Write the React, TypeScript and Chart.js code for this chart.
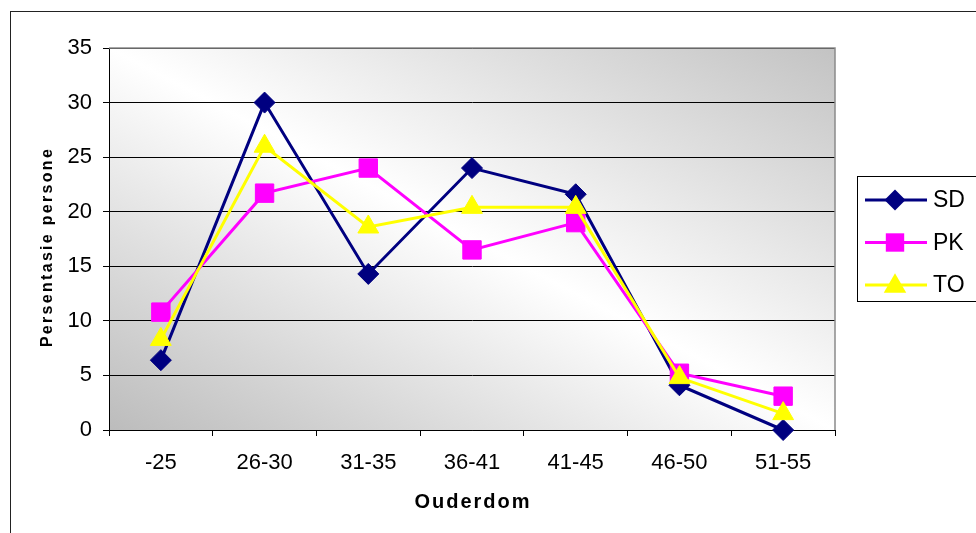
import React, { useEffect, useRef } from 'react';
import { Chart, registerables } from 'chart.js';

Chart.register(...registerables);

const categories = ['-25', '26-30', '31-35', '36-41', '41-45', '46-50', '51-55'];
const seriesNames = ['SD', 'PK', 'TO'];
const sdValues = [6.4, 30, 14.3, 24, 21.6, 4.1, 0];
const pkValues = [10.8, 21.7, 24, 16.5, 19, 5.2, 3.1];
const toValues = [8.3, 26, 18.6, 20.4, 20.4, 4.8, 1.5];
const yMin = 0;
const yMax = 35;
const yStep = 5;
const xTitle = 'Ouderdom';
const yTitle = 'Persentasie persone';

const FONT = '"Liberation Sans", Arial, Helvetica, sans-serif';

function drawMarker(ctx: CanvasRenderingContext2D, style: string, x: number, y: number, r: number, color: string) {
  ctx.save();
  ctx.fillStyle = color;
  ctx.beginPath();
  if (style === 'rectRot') {
    ctx.moveTo(x, y - r);
    ctx.lineTo(x + r, y);
    ctx.lineTo(x, y + r);
    ctx.lineTo(x - r, y);
    ctx.closePath();
  } else if (style === 'rect') {
    const s = r * Math.SQRT1_2;
    ctx.rect(x - s, y - s, 2 * s, 2 * s);
  } else {
    const h = r * 0.866;
    ctx.moveTo(x, y - r * 0.9);
    ctx.lineTo(x + h, y + r * 0.6);
    ctx.lineTo(x - h, y + r * 0.6);
    ctx.closePath();
  }
  ctx.fill();
  ctx.restore();
}

export default function App() {
  const ref = useRef<HTMLCanvasElement>(null);

  useEffect(() => {
    const canvas = ref.current;
    if (!canvas) return;

    const decor = {
      id: 'decor',
      beforeDraw(chart: any) {
        const { ctx, chartArea: a } = chart;
        const w = a.right - a.left;
        const h = a.bottom - a.top;
        const cx = (a.left + a.right) / 2;
        const cy = (a.top + a.bottom) / 2;
        const t = (w * h) / (w * w + h * h);
        const g = ctx.createLinearGradient(cx - t * h, cy + t * w, cx + t * h, cy - t * w);
        g.addColorStop(0, '#bcbcbc');
        g.addColorStop(0.5, '#ffffff');
        g.addColorStop(1, '#c3c3c3');
        ctx.save();
        ctx.fillStyle = '#ffffff';
        ctx.fillRect(0, 0, chart.width, chart.height);
        ctx.fillStyle = g;
        ctx.fillRect(a.left, a.top, w, h);
        ctx.strokeStyle = '#222';
        ctx.lineWidth = 1;
        ctx.strokeRect(10.5, 11.5, 3000, 3000);
        ctx.restore();
      },
      beforeDatasetsDraw(chart: any) {
        const { ctx, chartArea: a } = chart;
        ctx.save();
        ctx.strokeStyle = '#8a8a8a';
        ctx.lineWidth = 1.5;
        ctx.beginPath();
        ctx.moveTo(a.left, a.top);
        ctx.lineTo(a.right, a.top);
        ctx.lineTo(a.right, a.bottom);
        ctx.stroke();
        ctx.restore();
      },
      afterDraw(chart: any) {
        const { ctx, chartArea: a } = chart;
        ctx.save();
        ctx.fillStyle = '#000';
        ctx.textAlign = 'center';
        ctx.textBaseline = 'middle';
        // x title
        ctx.font = `bold 20px ${FONT}`;
        (ctx as any).letterSpacing = '2px';
        ctx.fillText(xTitle, (a.left + a.right) / 2 + 1, 502);
        // y title
        ctx.font = `bold 16px ${FONT}`;
        (ctx as any).letterSpacing = '2.3px';
        ctx.translate(48, 248);
        ctx.rotate(-Math.PI / 2);
        ctx.fillText(yTitle, 1, 0);
        ctx.restore();

        // legend
        ctx.save();
        (ctx as any).letterSpacing = '0px';
        ctx.fillStyle = '#ffffff';
        ctx.fillRect(857, 176, 200, 125);
        ctx.strokeStyle = '#000';
        ctx.lineWidth = 1;
        ctx.strokeRect(857.5, 176.5, 200, 125);
        ctx.font = `23px ${FONT}`;
        ctx.textAlign = 'left';
        ctx.textBaseline = 'middle';
        chart.data.datasets.forEach((ds: any, i: number) => {
          const y = 200 + i * 42.5;
          ctx.strokeStyle = ds.borderColor;
          ctx.lineWidth = 3;
          ctx.beginPath();
          ctx.moveTo(865, y);
          ctx.lineTo(927, y);
          ctx.stroke();
          drawMarker(ctx, ds.pointStyle, 895, y, ds.legendRadius, ds.borderColor);
          ctx.fillStyle = '#000';
          ctx.fillText(ds.label, 933, y + 1);
        });
        ctx.restore();
      },
    };

    const chart = new Chart(canvas, {
      type: 'line',
      data: {
        labels: categories,
        datasets: [
          {
            label: seriesNames[0],
            data: sdValues,
            borderColor: '#000080',
            backgroundColor: '#000080',
            pointBackgroundColor: '#000080',
            pointBorderColor: '#000080',
            pointBorderWidth: 1,
            borderWidth: 3,
            pointStyle: 'rectRot',
            pointRadius: 10.5,
            legendRadius: 10.5,
            order: 2,
            clip: false,
          } as any,
          {
            label: seriesNames[1],
            data: pkValues,
            borderColor: '#ff00ff',
            backgroundColor: '#ff00ff',
            pointBackgroundColor: '#ff00ff',
            pointBorderColor: '#ff00ff',
            pointBorderWidth: 1,
            borderWidth: 3,
            pointStyle: 'rect',
            pointRadius: 13,
            legendRadius: 13,
            order: 1,
            clip: false,
          } as any,
          {
            label: seriesNames[2],
            data: toValues,
            borderColor: '#ffff00',
            backgroundColor: '#ffff00',
            pointBackgroundColor: '#ffff00',
            pointBorderColor: '#ffff00',
            pointBorderWidth: 1,
            borderWidth: 3,
            pointStyle: 'triangle',
            pointRadius: 12,
            legendRadius: 13,
            order: 0,
            clip: false,
          } as any,
        ],
      },
      options: {
        responsive: false,
        animation: false,
        devicePixelRatio: 1,
        layout: { padding: { left: 0, top: 48, right: 141, bottom: 0 } },
        plugins: {
          legend: { display: false },
          tooltip: { enabled: false },
          title: { display: false },
        },
        elements: { line: { tension: 0 } },
        scales: {
          x: {
            type: 'category',
            offset: true,
            grid: {
              offset: true,
              drawOnChartArea: false,
              drawTicks: true,
              tickLength: 6,
              color: '#000',
            },
            border: { color: '#000', width: 1 },
            ticks: {
              color: '#000',
              font: { family: FONT, size: 22 },
              padding: 14,
              maxRotation: 0,
              autoSkip: false,
            },
            afterFit(scale: any) {
              scale.height = 103;
            },
          },
          y: {
            min: yMin,
            max: yMax,
            grid: { color: '#000', tickLength: 6, lineWidth: 1 },
            border: { color: '#000', width: 1 },
            ticks: {
              stepSize: yStep,
              color: '#000',
              font: { family: FONT, size: 22 },
              padding: 11,
            },
            afterFit(scale: any) {
              scale.width = 109;
            },
          },
        },
      },
      plugins: [decor],
    });

    return () => chart.destroy();
  }, []);

  return (
    <div style={{ position: 'fixed', left: 0, top: 0, width: 976, height: 533, background: '#fff' }}>
      <canvas ref={ref} width={976} height={533} style={{ display: 'block', width: 976, height: 533 }} />
    </div>
  );
}
